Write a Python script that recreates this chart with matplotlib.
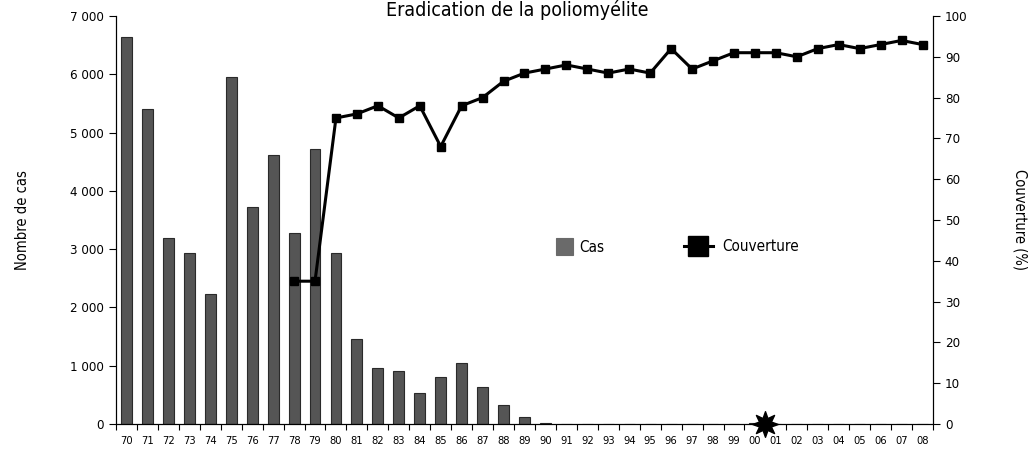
import matplotlib.pyplot as plt
from matplotlib.ticker import FuncFormatter

# Data
years = ['70', '71', '72', '73', '74', '75', '76', '77', '78', '79',
         '80', '81', '82', '83', '84', '85', '86', '87', '88', '89',
         '90', '91', '92', '93', '94', '95', '96', '97', '98', '99',
         '00', '01', '02', '03', '04', '05', '06', '07', '08']
cas = [6640, 5400, 3190, 2940, 2230, 5960, 3720, 4610, 3270, 4715,
       2940, 1465, 955, 910, 525, 800, 1050, 640, 325, 125,
       20, 0, 0, 0, 0, 0, 0, 0, 0, 0,
       10, 0, 0, 0, 0, 0, 0, 0, 0]
couv_years = years[8:]
couverture = [35, 35, 75, 76, 78, 75, 78, 68, 78, 80,
              84, 86, 87, 88, 87, 86, 87, 86, 92, 87,
              89, 91, 91, 91, 90, 92, 93, 92, 93, 94, 93]
eradication_pos = 30.5  # between 00 and 01

plt.rcParams['font.family'] = ['DejaVu Sans']
plt.rcParams['font.stretch'] = 'condensed'

fig = plt.figure(figsize=(10.34, 4.49), dpi=100)
ax = fig.add_axes([0.1122, 0.0557, 0.7901, 0.9087])
ax2 = ax.twinx()

x = list(range(len(years)))
ax.bar(x, cas, width=0.52, color='#555555', edgecolor='#2a2a2a', linewidth=0.8,
       label='Cas', zorder=2)
ax.set_xlim(-0.5, len(years) - 0.5)
ax.set_ylim(0, 7000)
ax.set_yticks(range(0, 7001, 1000))
ax.yaxis.set_major_formatter(FuncFormatter(lambda v, p: f'{int(v):,}'.replace(',', ' ')))
ax.set_xticks(x)
ax.set_xticklabels(years, fontsize=8)
ax.set_xticks([i - 0.5 for i in range(len(years) + 1)], minor=True)
ax.tick_params(axis='x', which='major', length=0, pad=9)
ax.tick_params(axis='x', which='minor', length=4, width=0.8)
ax.tick_params(axis='y', length=5, width=0.8, labelsize=9.5)
ax.set_ylabel('Nombre de cas', fontsize=10.5)
ax.yaxis.set_label_coords(-0.105, 0.5)
ax.spines['top'].set_visible(False)

cx = [years.index(y) for y in couv_years]
ax2.plot(cx, couverture, color='black', lw=2.2, marker='s', markersize=6,
         label='Couverture', zorder=3)
ax2.scatter([eradication_pos], [0], marker=(8, 1, 0), s=340, color='black',
            zorder=5, clip_on=False)
ax2.set_ylim(0, 100)
ax2.set_yticks(range(0, 101, 10))
ax2.tick_params(axis='y', length=5, width=0.8, labelsize=9.5)
ax2.set_ylabel('Couverture (%)', fontsize=10.5, rotation=270, va='center')
ax2.yaxis.set_label_coords(1.106, 0.5)
ax2.spines['top'].set_visible(False)

for a in (ax, ax2):
    for s in a.spines.values():
        s.set_linewidth(0.8)

h1, l1 = ax.get_legend_handles_labels()
h2, l2 = ax2.get_legend_handles_labels()
leg1 = ax2.legend(h1, l1, loc='center left', bbox_to_anchor=(0.522, 0.435),
                  frameon=False, fontsize=11, handlelength=1.1, handleheight=1.3,
                  handletextpad=0.4)
for p in leg1.get_patches():
    p.set_facecolor('#6a6a6a')
    p.set_edgecolor('#6a6a6a')
ax2.add_artist(leg1)
ax2.legend(h2, l2, loc='center left', bbox_to_anchor=(0.678, 0.435),
           frameon=False, fontsize=11, handlelength=1.9, markerscale=2.3,
           handletextpad=0.6)

fig.text(0.5, 1.0, 'Eradication de la poliomyélite', ha='center', va='top',
         fontsize=14)

fig.savefig('out.png', dpi=100)
